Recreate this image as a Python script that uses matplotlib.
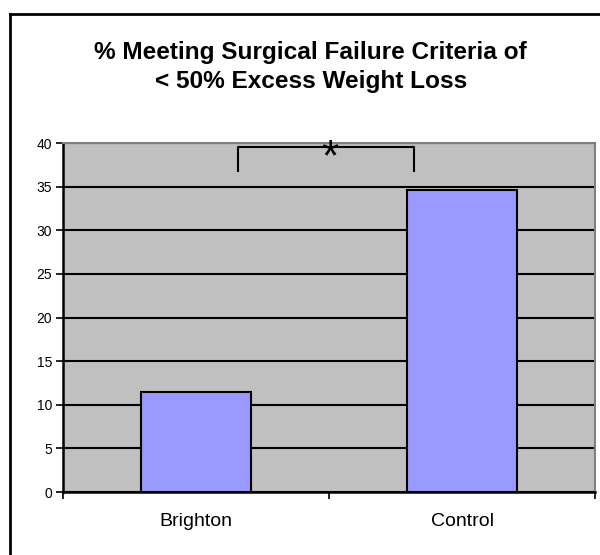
import matplotlib.pyplot as plt
from matplotlib.lines import Line2D

# data
groups = ["Brighton", "Control"]
pct_failure = [11.5, 34.6]
y_ticks = [0, 5, 10, 15, 20, 25, 30, 35, 40]
title = "% Meeting Surgical Failure Criteria of\n< 50% Excess Weight Loss"

plt.rcParams['font.family'] = ['Liberation Sans', 'DejaVu Sans']

fig = plt.figure(figsize=(6, 5.55), dpi=100)
ax = fig.add_axes([0.105, 0.1135, 0.8867, 0.6288])
ax.set_facecolor('#C0C0C0')

x = list(range(len(groups)))
ax.bar(x, pct_failure, width=0.41, color='#9999FF', edgecolor='black',
       linewidth=1.5, zorder=3)

ax.set_xlim(-0.5, len(groups) - 0.5)
ax.set_ylim(0, 40)
ax.set_yticks(y_ticks)
ax.tick_params(axis='y', labelsize=10, length=5, width=1.2, pad=3)
ax.yaxis.grid(True, color='black', linewidth=1.5, zorder=1)
ax.set_axisbelow(True)

ax.set_xticks(x)
ax.set_xticklabels(groups, fontsize=14)
ax.tick_params(axis='x', length=0, pad=15)
ax.set_xticks([-0.5, 0.5, 1.5], minor=True)
ax.tick_params(axis='x', which='minor', length=5, width=1.2)

for side in ['left', 'bottom']:
    ax.spines[side].set_linewidth(1.8)
for side in ['top', 'right']:
    ax.spines[side].set_color('#808080')
    ax.spines[side].set_linewidth(1.5)

# significance bracket
ax.plot([0.157, 0.157, 0.82, 0.82], [36.8, 39.6, 39.6, 36.8], color='black',
        linewidth=1.5, zorder=4)
ax.text(0.505, 36.9, '*', ha='center', va='baseline', fontsize=32,
        fontweight='light', zorder=5)

fig.text(0.518, 0.879, title, ha='center', va='center', fontsize=17.6,
         fontweight='bold', linespacing=1.3)

# outer border (left and top only visible)
fig.add_artist(Line2D([10 / 600, 10 / 600], [0, 1 - 14 / 555],
                      color='black', linewidth=2, transform=fig.transFigure))
fig.add_artist(Line2D([10 / 600, 1], [1 - 14 / 555, 1 - 14 / 555],
                      color='black', linewidth=2, transform=fig.transFigure))

fig.savefig('out.png', dpi=100)
